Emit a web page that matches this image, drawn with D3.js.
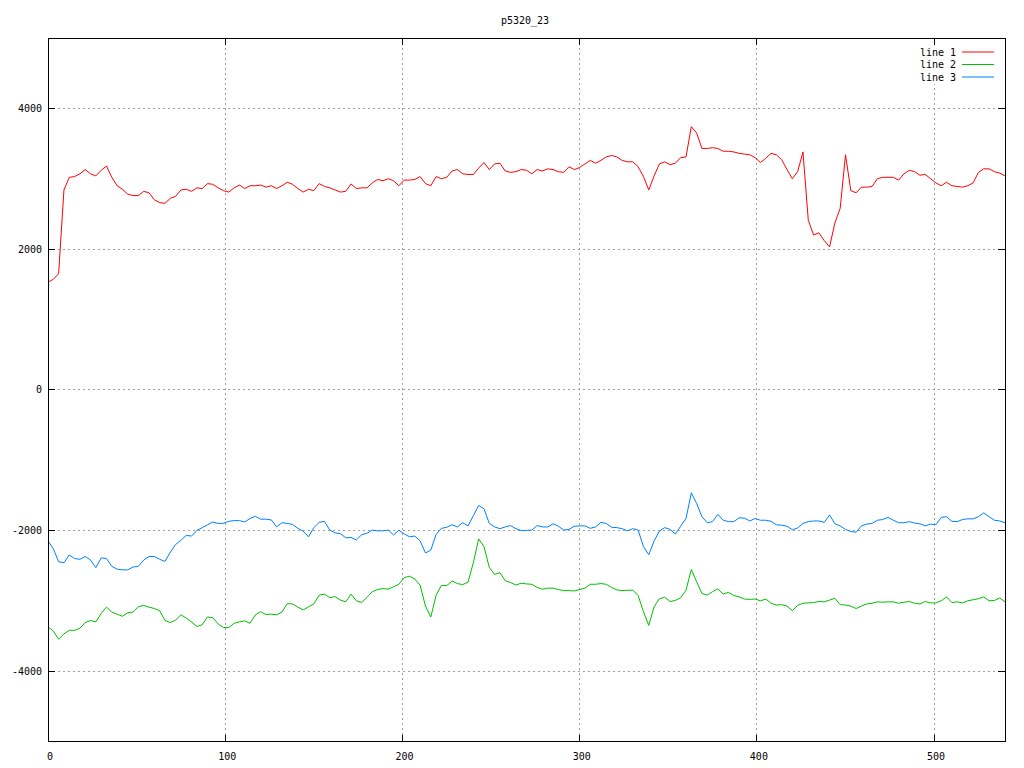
<!DOCTYPE html>
<html>
<head>
<meta charset="utf-8">
<script src="https://cdn.jsdelivr.net/npm/d3@7/dist/d3.min.js"></script>
<style>
  html, body { margin: 0; padding: 0; background: #fff; }
  svg { display: block; }
  text { font-family: "DejaVu Sans Mono", "Liberation Mono", monospace; font-size: 10px; fill: #000; }
</style>
</head>
<body>
<svg id="chart" width="1024" height="768"></svg>
<script>
// ---- data (sampled every 3 x-units, 0..540) ----
const title = "p5320_23";
const seriesNames = ["line 1", "line 2", "line 3"];
const xStep = 3;
const xTicks = [0, 100, 200, 300, 400, 500];
const yTicks = [-4000, -2000, 0, 2000, 4000];

const line1 = [
  1530,1570,1650,2840,3020,3030,3070,3130,3070,3040,3120,3180,3020,2900,2850,2780,2760,2760,2820,2800,
  2700,2660,2650,2720,2750,2840,2850,2820,2870,2860,2930,2920,2870,2830,2810,2870,2910,2860,2900,2900,
  2910,2880,2900,2860,2900,2950,
  2920,2860,2810,2850,2830,2930,2890,2870,2840,2810,2820,2925,2860,2870,2870,2940,2990,2970,3000,2970,
  2900,2980,2980,2990,3030,2930,2900,3030,3000,3020,3110,3130,3070,3060,3060,3150,3230,3130,3210,3220,
  3110,3090,3100,3130,3120,
  3070,3130,3110,3140,3130,3100,3090,3170,3130,3160,3210,3260,3220,3260,3310,3330,3310,3260,3240,3240,
  3170,3030,2840,3040,3210,3240,3200,3220,3300,3310,3740,3650,3430,3430,3440,3430,3390,3390,3380,3360,
  3350,3340,3300,3230,3290,
  3360,3340,3270,3130,3000,3100,3380,2410,2200,2230,2120,2030,2370,2580,3340,2830,2800,2880,2880,2890,
  3000,3020,3020,3020,2980,3070,3120,3100,3050,3060,3000,2940,2900,2950,2900,2890,2880,2900,2940,3090,
  3140,3140,3100,3080,3040
];

const line2 = [
  -3370,-3430,-3545,-3470,-3420,-3420,-3390,-3310,-3280,-3300,-3180,-3090,-3160,-3190,-3220,-3170,-3160,-3085,-3065,-3090,
  -3110,-3140,-3280,-3310,-3275,-3200,-3245,-3300,-3365,-3340,-3230,-3240,-3330,-3380,-3380,-3320,-3300,-3285,-3320,-3200,
  -3155,-3195,-3190,-3200,-3160,-3040,
  -3045,-3090,-3130,-3085,-3045,-2920,-2905,-2955,-2940,-2990,-3015,-2905,-3000,-3025,-2950,-2870,-2840,-2825,-2835,-2800,
  -2765,-2670,-2650,-2690,-2780,-3075,-3230,-2920,-2780,-2785,-2720,-2755,-2770,-2735,-2460,-2120,-2230,-2525,-2625,-2600,
  -2715,-2740,-2775,-2750,-2760,
  -2765,-2810,-2835,-2820,-2820,-2840,-2855,-2855,-2860,-2840,-2820,-2765,-2765,-2755,-2765,-2810,-2845,-2855,-2850,-2850,
  -2925,-3155,-3350,-3085,-2970,-2950,-3010,-2995,-2955,-2850,-2555,-2730,-2895,-2920,-2870,-2830,-2905,-2880,-2925,-2945,
  -2975,-2980,-2975,-3000,-2975,
  -3035,-3060,-3055,-3075,-3140,-3065,-3035,-3030,-3025,-3010,-3015,-2990,-2965,-3055,-3060,-3075,-3110,-3075,-3045,-3035,
  -3015,-3020,-3015,-3015,-3035,-3020,-3010,-3035,-3045,-3010,-3030,-3030,-3000,-2945,-3025,-3015,-3030,-3000,-2985,-2970,
  -2945,-3000,-2995,-2960,-3015
];

const line3 = [
  -2150,-2260,-2445,-2460,-2350,-2400,-2410,-2370,-2420,-2530,-2390,-2400,-2510,-2550,-2560,-2560,-2520,-2510,-2420,-2370,
  -2370,-2410,-2440,-2310,-2200,-2140,-2070,-2080,-2000,-1960,-1920,-1880,-1900,-1900,-1870,-1860,-1860,-1880,-1830,-1800,
  -1840,-1840,-1850,-1950,-1890,-1900,
  -1915,-1970,-2010,-2090,-1960,-1885,-1870,-1995,-2035,-2045,-2105,-2100,-2135,-2060,-2040,-1995,-2005,-2005,-1995,-2065,
  -1995,-2050,-2090,-2080,-2150,-2320,-2280,-2055,-1970,-1955,-1920,-1950,-1890,-1935,-1790,-1645,-1690,-1900,-1950,-1975,
  -1950,-1930,-1975,-2000,-2000,
  -1995,-1930,-1950,-1950,-1905,-1940,-1995,-1985,-1940,-1935,-1935,-1970,-1950,-1885,-1900,-1955,-1960,-1975,-2005,-1975,
  -1995,-2230,-2345,-2150,-2010,-1960,-1985,-2050,-1940,-1830,-1465,-1615,-1805,-1890,-1875,-1770,-1855,-1875,-1875,-1820,
  -1825,-1865,-1830,-1855,-1855,
  -1870,-1920,-1925,-1940,-1990,-1965,-1900,-1875,-1865,-1865,-1885,-1780,-1905,-1935,-1985,-2015,-2025,-1935,-1910,-1900,
  -1855,-1845,-1815,-1855,-1890,-1890,-1875,-1895,-1905,-1935,-1910,-1920,-1815,-1805,-1870,-1875,-1845,-1835,-1835,-1805,
  -1750,-1805,-1855,-1865,-1890
];

const colors = ["#ff0000", "#00c000", "#0080ff"];

// ---- layout ----
const svg = d3.select("#chart");
const L = 48, R = 1005, T = 38, B = 741.5;
const x = d3.scaleLinear().domain([0, 540]).range([L, R]);
const y = d3.scaleLinear().domain([-5000, 5000]).range([B, T]);

// grid
const grid = svg.append("g").attr("stroke", "#a0a0a0").attr("stroke-width", 1)
  .attr("stroke-dasharray", "2,3").attr("shape-rendering", "crispEdges");
xTicks.filter(v => v > 0).forEach(v => {
  grid.append("line").attr("x1", x(v)).attr("x2", x(v)).attr("y1", T).attr("y2", B);
});
yTicks.forEach(v => {
  grid.append("line").attr("x1", L).attr("x2", R).attr("y1", y(v)).attr("y2", y(v));
});

// legend background (opaque key)
svg.append("rect").attr("x", 912).attr("y", 44).attr("width", 90).attr("height", 40).attr("fill", "#fff");

// series lines
const series = [line1, line2, line3];
const lineGen = d3.line().x((d, i) => x(i * xStep)).y(d => y(d));
series.forEach((s, k) => {
  svg.append("path").datum(s).attr("d", lineGen)
    .attr("fill", "none").attr("stroke", colors[k]).attr("stroke-width", 1)
    .attr("stroke-linejoin", "miter");
});

// frame
svg.append("rect").attr("x", L).attr("y", T).attr("width", R - L).attr("height", B - T)
  .attr("fill", "none").attr("stroke", "#000").attr("stroke-width", 1).attr("shape-rendering", "crispEdges");

// ticks (inward, mirrored)
const tk = svg.append("g").attr("stroke", "#000").attr("stroke-width", 1).attr("shape-rendering", "crispEdges");
xTicks.forEach(v => {
  tk.append("line").attr("x1", x(v)).attr("x2", x(v)).attr("y1", B).attr("y2", B - 7);
  tk.append("line").attr("x1", x(v)).attr("x2", x(v)).attr("y1", T).attr("y2", T + 7);
});
yTicks.forEach(v => {
  tk.append("line").attr("x1", L).attr("x2", L + 7).attr("y1", y(v)).attr("y2", y(v));
  tk.append("line").attr("x1", R).attr("x2", R - 7).attr("y1", y(v)).attr("y2", y(v));
});

// tick labels
xTicks.forEach(v => {
  svg.append("text").attr("x", x(v) + 2).attr("y", 756).attr("text-anchor", "middle")
    .attr("dominant-baseline", "central").text(v);
});
yTicks.forEach(v => {
  svg.append("text").attr("x", 42).attr("y", y(v)).attr("text-anchor", "end")
    .attr("dominant-baseline", "central").text(String(v));
});

// title
svg.append("text").attr("x", 525).attr("y", 20).attr("text-anchor", "middle")
  .attr("dominant-baseline", "central").text(title);

// legend
const legY = [52, 64.5, 77];
seriesNames.forEach((n, k) => {
  svg.append("text").attr("x", 956).attr("y", legY[k]).attr("text-anchor", "end")
    .attr("dominant-baseline", "central").text(n);
  svg.append("line").attr("x1", 962).attr("x2", 994).attr("y1", legY[k]).attr("y2", legY[k])
    .attr("stroke", colors[k]).attr("stroke-width", 1);
});
</script>
</body>
</html>
